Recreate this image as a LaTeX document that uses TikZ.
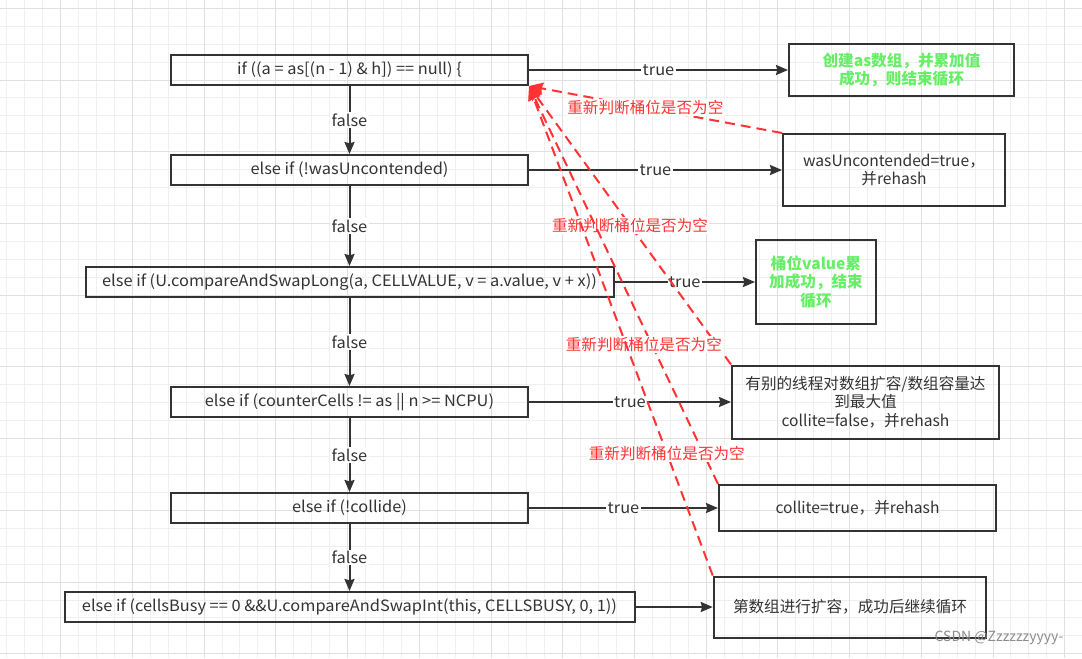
\documentclass[tikz,border=0pt]{standalone}
\usepackage{fontspec}
\setmainfont{Noto Sans CJK SC}
\newfontfamily\lat{Noto Sans CJK SC}[FakeStretch=1.05]
\usetikzlibrary{arrows.meta, positioning}
\definecolor{linegray}{HTML}{333333}
\definecolor{backred}{HTML}{FF3333}
\definecolor{okgreen}{HTML}{66EE66}
\definecolor{gridminor}{HTML}{EFEFEF}
\definecolor{gridmajor}{HTML}{E0E0E0}
\newcommand{\fsz}{\fontsize{11.7}{13.7}\selectfont}

\begin{document}
\begin{tikzpicture}[x=0.75pt, y=-0.75pt, node distance=75pt, font=\fsz]
\tikzstyle{cond} = [rectangle, minimum width=267.75pt, minimum height=22.5pt, text centered, draw=linegray, line width=1.5pt, text=linegray, font=\fsz\lat]
\tikzstyle{res} = [rectangle, align=center, draw=linegray, line width=1.5pt, text=linegray]
\tikzstyle{good} = [res, text=okgreen, font=\fsz\bfseries]
\tikzstyle{flow} = [draw=linegray, line width=1.5pt, -{Stealth[length=9pt, width=7.5pt, inset=1pt]}]
\tikzstyle{back} = [draw=backred, line width=1.5pt, dash pattern=on 7.5pt off 4.5pt, -{Stealth[length=10.5pt, width=9pt, inset=1pt]}]
\tikzstyle{lbl} = [fill=white, inner sep=1pt, text=linegray, font=\fsz\lat]
\tikzstyle{redlbl} = [fill=white, inner sep=1pt, text=backred]

\fill[white] (0,0) rectangle (1082,658);
\useasboundingbox (0,0) rectangle (1082,658);
\foreach \i in {0,...,60} \draw[gridminor, line width=0.75pt] ({6.9+17.93*\i},0) -- ({6.9+17.93*\i},658);
\foreach \j in {0,...,36} \draw[gridminor, line width=0.75pt] (0,{8.3+17.93*\j}) -- (1082,{8.3+17.93*\j});
\foreach \i in {1,...,15} \draw[gridmajor, line width=0.75pt] ({-11+71.72*\i},0) -- ({-11+71.72*\i},658);
\foreach \j in {0,...,9} \draw[gridmajor, line width=0.75pt] (0,{8.3+71.72*\j}) -- (1082,{8.3+71.72*\j});

\node (cas) [cond] at (349.5,70) {if ((a = as[(n - 1) \& h]) == null) \{};
\node (wasu) [cond, below of=cas] {else if (!wasUncontended)};
\node (cval) [cond, below of=wasu, yshift=-9pt, minimum width=396pt] {else if (U.compareAndSwapLong(a, CELLVALUE, v = a.value, v + x))};
\node (ncpu) [cond, below of=cval, yshift=-15pt] {else if (counterCells != as || n >= NCPU)};
\node (coll) [cond, below of=ncpu, yshift=-4.5pt] {else if (!collide)};
\node (busy) [cond, below of=coll, yshift=0.75pt, minimum width=427.5pt] {else if (cellsBusy == 0 \&\&U.compareAndSwapInt(this, CELLSBUSY, 0, 1))};

\node (mkas) [good, minimum width=168.75pt, minimum height=39pt] at (901.5,0 |- cas) {创建as数组，并累加值\\成功，则结束循环};
\node (rehash1) [res, minimum width=166.5pt, minimum height=54pt] at (894,0 |- wasu) {wasUncontended=true，\\并rehash};
\node (addok) [good, minimum width=90pt, minimum height=63pt] at (816,0 |- cval) {桶位value累\\加成功，结束\\循环};
\node (grow) [res, minimum width=200.25pt, minimum height=54.75pt] at (865.5,0 |- ncpu) {有别的线程对数组扩容/数组容量达\\到最大值\\collite=false，并rehash};
\node (rehash2) [res, minimum width=207.75pt, minimum height=34.5pt] at (857.5,0 |- coll) {collite=true，并rehash};
\node (expand) [res, minimum width=204.4pt, minimum height=45.75pt] at (850,0 |- busy) {第数组进行扩容，成功后继续循环};

\draw [flow] (cas) -- node[lbl] {false} (wasu);
\draw [flow] (wasu) -- node[lbl] {false} (cval);
\draw [flow] (cval) -- node[lbl] {false} (ncpu);
\draw [flow] (ncpu) -- node[lbl] {false} (coll);
\draw [flow] (coll) -- node[lbl] {false} (busy);

\draw [flow] (cas) -- node[lbl] {true} (mkas);
\draw [flow] (wasu) -- node[lbl] {true} (rehash1);
\draw [flow] (cval) -- node[lbl] {true} (addok);
\draw [flow] (ncpu) -- node[lbl] {true} (grow);
\draw [flow] (coll) -- node[lbl] {true} (rehash2);
\draw [flow] (busy) -- (expand);

\draw [back] (rehash1.north west) -- node[redlbl, pos=0.54] {重新判断桶位是否为空} (cas.south east);
\draw [back] (grow.north west) -- node[redlbl, pos=0.5] {重新判断桶位是否为空} (cas.south east);
\draw [back] (rehash2.north west) -- node[redlbl, pos=0.35, xshift=-6pt] {重新判断桶位是否为空} (cas.south east);
\draw [back] (expand.north west) -- node[redlbl, pos=0.25] {重新判断桶位是否为空} (cas.south east);

\node (mark) [text=black!45, font=\fontsize{10.5}{12}\selectfont] at (999,638) {CSDN @Zzzzzzyyyy-};
\end{tikzpicture}
\end{document}
